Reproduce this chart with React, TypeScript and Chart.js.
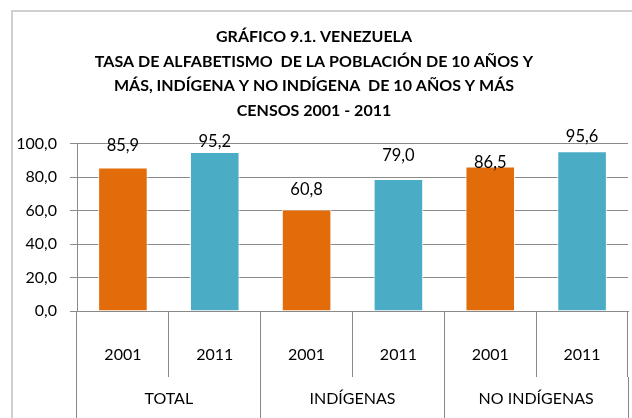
import React, { useEffect, useRef } from "react";
import { Chart, registerables } from "chart.js";

Chart.register(...registerables);

const titleLines = [
  "GRÁFICO 9.1. VENEZUELA",
  "TASA DE ALFABETISMO  DE LA POBLACIÓN DE 10 AÑOS Y",
  "MÁS, INDÍGENA Y NO INDÍGENA  DE 10 AÑOS Y MÁS",
  "CENSOS 2001 - 2011",
];
const years = ["2001", "2011", "2001", "2011", "2001", "2011"];
const groups = ["TOTAL", "INDÍGENAS", "NO INDÍGENAS"];
const values = [85.9, 95.2, 60.8, 79.0, 86.5, 95.6];
const yMin = 0;
const yMax = 100;
const yStep = 20;

const ORANGE = "#E36C0A";
const BLUE = "#4BACC6";
const barColors = [ORANGE, BLUE, ORANGE, BLUE, ORANGE, BLUE];
// label centre distance above bar top (as placed in the original)
const labelGaps = [22, 10, 20, 23, 4, 15];

const FONT = "Lato, 'Open Sans', sans-serif";
const GRID = "#8a8a8a";

const fmt = (v: number) => v.toFixed(1).replace(".", ",");

const valueLabels = {
  id: "valueLabels",
  afterDatasetsDraw(chart: any) {
    const ctx = chart.ctx;
    const meta = chart.getDatasetMeta(0);
    ctx.save();
    ctx.font = `16.5px ${FONT}`;
    ctx.fillStyle = "#000";
    ctx.textAlign = "center";
    ctx.textBaseline = "middle";
    meta.data.forEach((bar: any, i: number) => {
      ctx.fillText(fmt(values[i]), bar.x, bar.y - labelGaps[i]);
    });
    ctx.restore();
  },
};

export default function App() {
  const ref = useRef<HTMLCanvasElement>(null);
  useEffect(() => {
    document.body.style.margin = "0";
    const chart = new Chart(ref.current as HTMLCanvasElement, {
      type: "bar",
      data: {
        labels: years,
        datasets: [
          {
            data: values,
            backgroundColor: barColors,
            borderColor: "#ffffff",
            borderWidth: 1,
            barPercentage: 0.54,
            categoryPercentage: 1,
          },
        ],
      },
      options: {
        responsive: false,
        animation: false,
        devicePixelRatio: 1,
        layout: { padding: { left: 0, right: 4, top: 0, bottom: 0 } },
        plugins: {
          legend: { display: false },
          tooltip: { enabled: false },
          title: {
            display: true,
            text: titleLines,
            color: "#000",
            font: { family: FONT, size: 16, weight: "bold", lineHeight: 1.53 },
            padding: { top: 25, bottom: 21 },
          },
        },
        scales: {
          y: {
            min: yMin,
            max: yMax,
            ticks: {
              stepSize: yStep,
              color: "#000",
              font: { family: FONT, size: 16 },
              padding: 13,
              callback: (v: any) => fmt(Number(v)),
            },
            grid: { color: GRID, tickLength: 7 },
            border: { color: GRID },
            afterFit: (s: any) => {
              s.width = 77;
            },
          },
          x: {
            position: "bottom",
            ticks: {
              color: "#000",
              font: { family: FONT, size: 16 },
              maxRotation: 0,
              autoSkip: false,
              padding: -32,
            },
            grid: { offset: true, drawOnChartArea: false, tickLength: 66, color: GRID },
            border: { color: GRID },
            afterFit: (s: any) => {
              s.height = 66;
            },
          },
          x2: {
            type: "category",
            position: "bottom",
            labels: groups,
            offset: true,
            ticks: {
              color: "#000",
              font: { family: FONT, size: 16 },
              maxRotation: 0,
              autoSkip: false,
              padding: -48,
            },
            grid: { offset: true, drawOnChartArea: false, tickLength: 60, color: GRID },
            border: { display: false },
            afterFit: (s: any) => {
              s.height = 41;
            },
          },
        },
      } as any,
      plugins: [valueLabels],
    });
    return () => chart.destroy();
  }, []);

  return (
    <div style={{ position: "relative", width: 632, height: 418, overflow: "hidden", background: "#fff" }}>
      <div
        style={{
          position: "absolute",
          left: 11,
          top: 10,
          width: 700,
          height: 500,
          border: "2px solid #d0d0d0",
        }}
      />
      <canvas ref={ref} width={632} height={418} style={{ position: "absolute", left: 0, top: 0 }} />
    </div>
  );
}
